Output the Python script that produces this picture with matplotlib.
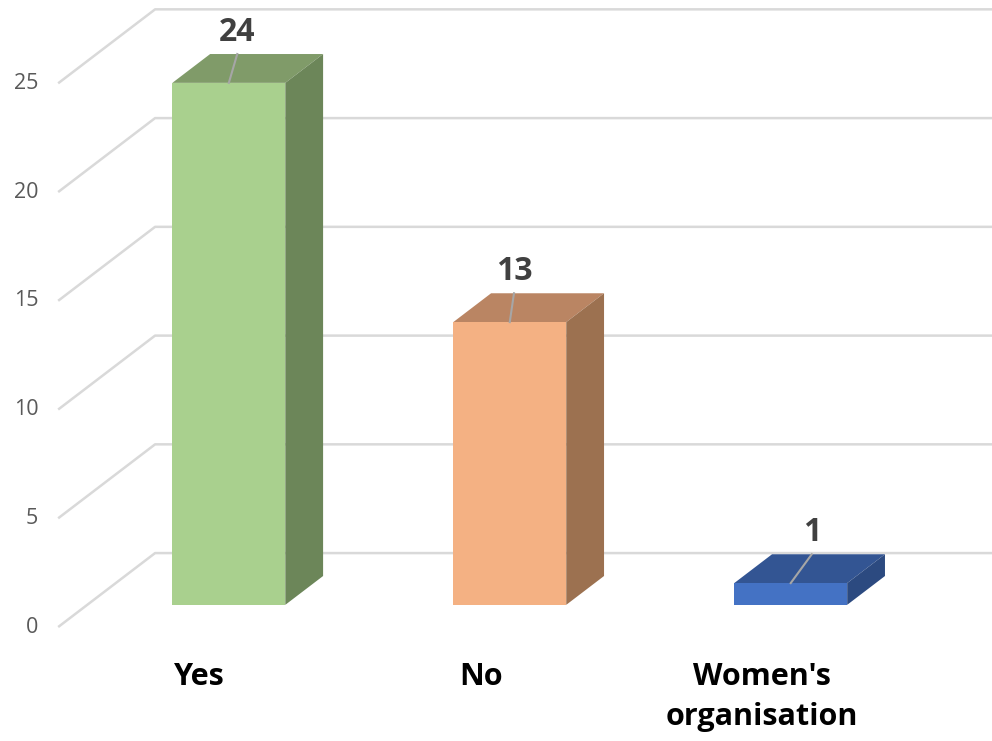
import matplotlib.pyplot as plt
from matplotlib.patches import Polygon

categories = ["Yes", "No", "Women's\norganisation"]
values = [24, 13, 1]
ticks = [0, 5, 10, 15, 20, 25]

front_colors = ["#a9d08e", "#f4b183", "#4472c4"]
top_colors = ["#809b69", "#ba8563", "#335593"]
side_colors = ["#6c8659", "#9c7150", "#2c4a80"]
label_shift = [0.03, 0.015, 0.075]  # excel puts the labels a bit off centre

# fake 3d: depth t goes from front axis plane (0) to back wall (1)
DX, DY = 0.345, 3.40
T_FRONT, T_BACK = 0.30, 0.69
HALF_W = 0.201


def P(x, v, t):
    return (x + t * DX, v + t * DY)


fig = plt.figure(figsize=(9.92, 7.41), dpi=100)
ax = fig.add_axes([0, 0, 1, 1])
ax.set_xlim(-0.711, 2.82)
ax.set_ylim(-5.24, 28.83)
ax.axis('off')

x_left = -0.504
for v in ticks:
    a = P(x_left, v, 0)
    b = P(x_left, v, 1)
    ax.plot([a[0], b[0], 2.9], [a[1], b[1], b[1]], color="#d9d9d9", lw=1.8, zorder=1,
            solid_capstyle='butt')
    ax.text(-0.575, v, str(v), ha='right', va='center', fontsize=15.5,
            color="#595959", family="Open Sans")

for i, (v, fc, tc, sc) in enumerate(zip(values, front_colors, top_colors, side_colors)):
    x0, x1 = i - HALF_W, i + HALF_W
    top = [P(x0, v, T_FRONT), P(x1, v, T_FRONT), P(x1, v, T_BACK), P(x0, v, T_BACK)]
    side = [P(x1, 0, T_FRONT), P(x1, 0, T_BACK), P(x1, v, T_BACK), P(x1, v, T_FRONT)]
    front = [P(x0, 0, T_FRONT), P(x1, 0, T_FRONT), P(x1, v, T_FRONT), P(x0, v, T_FRONT)]
    ax.add_patch(Polygon(top, closed=True, facecolor=tc, edgecolor='none', zorder=2))
    ax.add_patch(Polygon(side, closed=True, facecolor=sc, edgecolor='none', zorder=2))
    ax.add_patch(Polygon(front, closed=True, facecolor=fc, edgecolor='none', zorder=3))

    lx = P(i, v, T_FRONT)
    back_y = P(i, v, T_BACK)[1]
    tx = lx[0] + label_shift[i]
    ax.plot([lx[0], tx], [lx[1], back_y], color="#a6a6a6", lw=1.5, zorder=4)
    ax.text(tx, back_y + 1.0, str(v), ha='center', va='center', fontsize=23,
            fontweight='bold', color="#404040", family="Open Sans", zorder=5)

    ax.text(i, -1.6, categories[i], ha='center', va='top', fontsize=22,
            fontweight='bold', color="black", family="Open Sans", linespacing=1.45)

fig.savefig("out.png", dpi=100)
